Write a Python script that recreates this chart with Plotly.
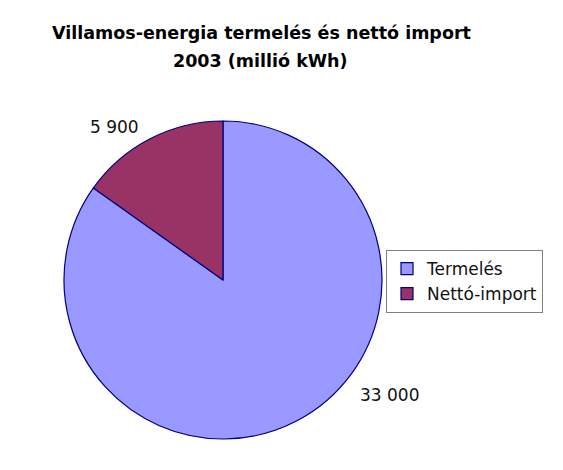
import plotly.graph_objects as go

categories = ["Termelés", "Nettó-import"]
values = [33000, 5900]
colors = ["#9999FF", "#993366"]
title_lines = ["Villamos-energia termelés és nettó import", "2003 (millió kWh)"]

W, H = 563, 470
OFF = 8  # page body margin of the browser

def fx(px):
    return (px - OFF) / W

def fy(py):
    return 1 - (py - OFF) / H

def fmt(v):
    return f"{v:,}".replace(",", " ")

fig = go.Figure(go.Pie(
    labels=categories,
    values=values,
    sort=False,
    direction="clockwise",
    rotation=0,
    marker=dict(colors=colors, line=dict(color="#000080", width=1.2)),
    textinfo="none",
    hoverinfo="label+value",
    domain=dict(x=[fx(63), fx(383)], y=[fy(439), fy(121)]),
    showlegend=True,
))

annotations = [
    dict(text=f"<b>{title_lines[0]}</b>", x=fx(261), y=fy(33)),
    dict(text=f"<b>{title_lines[1]}</b>", x=fx(260), y=fy(61)),
]
for a in annotations:
    a.update(xref="paper", yref="paper", showarrow=False, xanchor="center", yanchor="middle",
             font=dict(family="DejaVu Sans", size=17.5, color="#000000"))

label_pos = {"Termelés": (389, 395), "Nettó-import": (114, 127)}
for cat, v in zip(categories, values):
    px, py = label_pos[cat]
    annotations.append(dict(text=fmt(v), x=fx(px), y=fy(py), xref="paper", yref="paper",
                            showarrow=False, xanchor="center", yanchor="middle",
                            font=dict(family="DejaVu Sans", size=17, color="#111111")))

fig.update_layout(
    width=W, height=H,
    margin=dict(l=0, r=0, t=0, b=0),
    paper_bgcolor="white",
    plot_bgcolor="white",
    annotations=annotations,
    legend=dict(
        x=fx(386), y=fy(250), xanchor="left", yanchor="top",
        bordercolor="#808080", borderwidth=1,
        font=dict(family="DejaVu Sans", size=17, color="#111111"),
        itemwidth=30,
        tracegroupgap=0,
    ),
)

fig.write_html("out.html")
